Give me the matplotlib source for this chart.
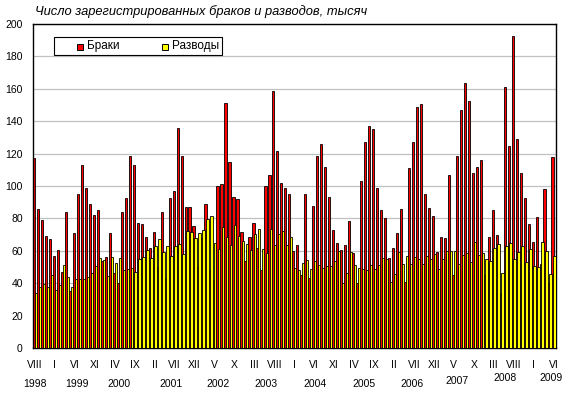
import matplotlib
matplotlib.use("Agg")
import matplotlib.pyplot as plt
import numpy as np
from matplotlib.patches import Rectangle
from matplotlib import transforms

plt.rcParams['font.family'] = ['Liberation Sans', 'DejaVu Sans']

# ---------------- data (thousands), Aug 1998 .. Jun 2009 ----------------
marriages_1998 = [117, 85.6, 78.8, 69, 67]
marriages_1999 = [56.6, 60.3, 47, 83.7, 35, 70.8, 94.9, 112.8, 98.6, 88.7, 81.9, 85]
marriages_2000 = [54, 56, 70.8, 46, 40, 83.7, 92.4, 118.3, 112.8, 77, 76.3, 68.3]
marriages_2001 = [62, 71.4, 50, 83.7, 43, 92.6, 97, 135.6, 118.5, 87, 87, 75.3]
marriages_2002 = [50, 68, 88.9, 48, 42, 99.8, 101, 151, 114.6, 93, 92, 71.4]
marriages_2003 = [54, 68.3, 77, 62, 48, 99.8, 107, 158.6, 121.6, 102, 98.6, 94.9]
marriages_2004 = [59.7, 63.4, 45, 94.9, 43, 87.4, 118.3, 125.7, 112, 93, 72.6, 64.6]
marriages_2005 = [60.3, 63.4, 78.2, 58.4, 40, 103, 127, 137, 135, 98.6, 85, 80.2]
marriages_2006 = [55.3, 62, 70.8, 85.6, 40.5, 111, 127, 148.6, 150.4, 94.9, 86.2, 81.3]
marriages_2007 = [59, 68.3, 67.7, 106.6, 45, 118.3, 146.7, 163.4, 152.3, 107.8, 112, 115.8]
marriages_2008 = [45, 68.3, 85, 70, 34, 161, 125, 192.6, 128.8, 107.8, 92.4, 76.3]
marriages_2009 = [65.2, 80.7, 52, 98, 40, 117.7]

divorces_1998 = [33.7, 37.4, 39.3, 37.4, 45]
divorces_1999 = [35.6, 38.9, 51.2, 43.6, 37.9, 42.4, 42.4, 42.4, 44, 46, 50.6, 55.3]
divorces_2000 = [54.3, 44.4, 56, 52.3, 55.3, 48, 48.6, 49.2, 46.7, 55, 56, 60.3]
divorces_2001 = [55.3, 63, 67, 59, 63, 56.8, 63, 64, 58, 72, 71.4, 67.7]
divorces_2002 = [71, 72.6, 79.6, 81.5, 65, 61, 74.7, 68.5, 63.4, 75.7, 69, 66]
divorces_2003 = [64, 60.3, 70.2, 73.3, 61, 58.4, 73.3, 63.4, 70.2, 72.2, 63.4, 68.3]
divorces_2004 = [49.2, 48, 52.3, 54.3, 48.6, 53.5, 51, 49.2, 50.4, 50.4, 54, 59.7]
divorces_2005 = [40, 46.5, 59, 51, 49.2, 48.6, 48, 51, 48.6, 51, 55.3, 54.7]
divorces_2006 = [41, 45.5, 59, 51.6, 57, 52, 56, 55, 52, 57, 55, 58]
divorces_2007 = [49, 55, 60, 60, 59.7, 51.9, 57.4, 58.4, 52.9, 65.2, 57.4, 58.4]
divorces_2008 = [54.7, 53.5, 61.5, 64.2, 46.3, 62.8, 64.6, 54.7, 59, 62.8, 52.9, 60.9]
divorces_2009 = [50.4, 49.8, 65.2, 59.7, 45.7, 56.6]

month_tick_labels = ["VIII", "I", "VI", "XI", "IV", "IX", "II", "VII", "XII", "V", "X",
                     "III", "VIII", "I", "VI", "XI", "IV", "IX", "II", "VII", "XII", "V",
                     "X", "III", "VIII", "I", "VI"]
year_labels = ["1998", "1999", "2000", "2001", "2002", "2003", "2004", "2005",
               "2006", "2007", "2008", "2009"]
series_names = ["Браки", "Разводы"]
series_colors = ["#ff0000", "#ffff00"]
title_text = "Число зарегистрированных браков и разводов, тысяч"

marriages = (marriages_1998 + marriages_1999 + marriages_2000 + marriages_2001 +
             marriages_2002 + marriages_2003 + marriages_2004 + marriages_2005 +
             marriages_2006 + marriages_2007 + marriages_2008 + marriages_2009)
divorces = (divorces_1998 + divorces_1999 + divorces_2000 + divorces_2001 +
            divorces_2002 + divorces_2003 + divorces_2004 + divorces_2005 +
            divorces_2006 + divorces_2007 + divorces_2008 + divorces_2009)

# ---------------- layout ----------------
W, H = 570, 399
fig = plt.figure(figsize=(W / 100, H / 100), dpi=100)
ax = fig.add_axes([32.5 / W, 1 - 348 / H, 523 / W, 324 / H])

def fx(px):
    return px / W

def fy(py):
    return 1 - py / H

x = np.arange(len(marriages))
ax.bar(x - 0.23, marriages, width=0.56, color=series_colors[0], edgecolor="black",
       linewidth=0.6, zorder=2)
ax.bar(x + 0.23, divorces, width=0.56, color=series_colors[1], edgecolor="black",
       linewidth=0.6, zorder=3)

ax.set_xlim(-0.62, 130.5)
ax.set_ylim(0, 200)
ax.set_yticks(np.arange(0, 201, 20))
ax.yaxis.grid(True, color="#c0c0c0", linewidth=0.9)
ax.set_axisbelow(True)
for s in ax.spines.values():
    s.set_color("black")
    s.set_linewidth(1.0)

ax.tick_params(axis="y", length=0, pad=7, labelsize=7.5)
ax.set_xticks(np.arange(0, len(marriages), 5))
ax.set_xticklabels(month_tick_labels)
ax.tick_params(axis="x", length=0, pad=9, labelsize=7.5)

year_pos = [0.1, 10.5, 21.1, 34.1, 45.9, 57.9, 70.3, 82.6, 94.6, 105.9, 117.8, 129.4]
year_y = [384, 384, 384, 384, 384, 384, 384, 384, 384, 380.7, 378, 378]
trans = transforms.blended_transform_factory(ax.transData, ax.transAxes)
for lab, px, py in zip(year_labels, year_pos, year_y):
    ax.text(px, (348 - py) / 324, lab, transform=trans, ha="center", va="center",
            fontsize=7.5)

fig.text(fx(35), fy(12), title_text, style="italic", fontsize=9.3,
         ha="left", va="center")

# ---------------- legend (drawn manually to match box geometry) ----------------
box = Rectangle((fx(54), fy(55)), fx(168), 18 / H, transform=fig.transFigure,
                facecolor="white", edgecolor="black", linewidth=0.8, zorder=10)
fig.patches.append(box)
for name, col, sx in zip(series_names, series_colors, [77, 162]):
    sq = Rectangle((fx(sx), fy(49.5)), fx(6), 6 / H, transform=fig.transFigure,
                   facecolor=col, edgecolor="black", linewidth=0.7, zorder=11)
    fig.patches.append(sq)
    fig.text(fx(sx + 10), fy(46.5), name, fontsize=8.5, ha="left", va="center",
             zorder=12)

fig.savefig("out.png", dpi=100)
